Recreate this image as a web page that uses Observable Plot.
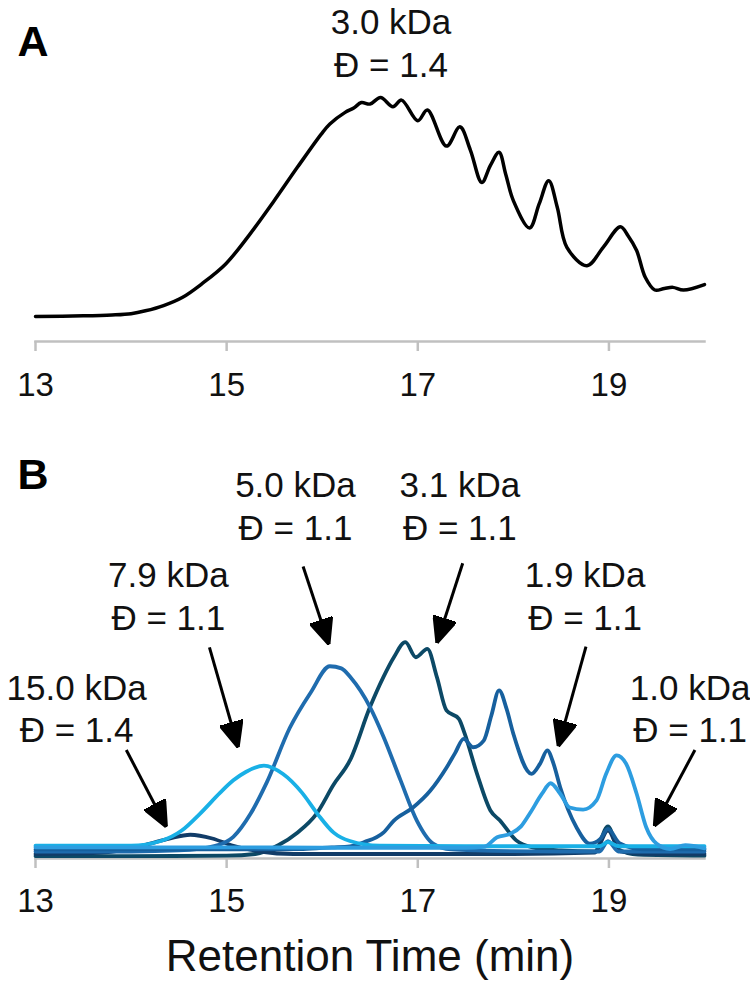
<!DOCTYPE html>
<html>
<head>
<meta charset="utf-8">
<script src="https://cdn.jsdelivr.net/npm/d3@7"></script>
<script src="https://cdn.jsdelivr.net/npm/@observablehq/plot@0.6"></script>
<style>
  html, body { margin: 0; padding: 0; background: #fff; }
  #chart { width: 750px; }
  #chart svg { display: block; }
</style>
</head>
<body>
<div id="chart"></div>
<script>
// ---------- shared axis ----------
const timeDomain = [13, 20];
const timeTicks = [13, 15, 17, 19];
const axisTitle = "Retention Time (min)";

// ---------- panel A: 3.0 kDa, Đ = 1.4 (normalised detector signal) ----------
const timeA = [13.00, 13.50, 13.80, 14.00, 14.15, 14.34, 14.54, 14.74, 14.99, 15.24, 15.49, 15.74, 15.99,
  16.08, 16.24, 16.33, 16.41, 16.50, 16.61, 16.74, 16.83, 17.00, 17.10, 17.30, 17.44, 17.55, 17.67,
  17.76, 17.85, 17.92, 18.00, 18.17, 18.27, 18.37, 18.46, 18.56, 18.77, 18.94, 19.12, 19.20, 19.29,
  19.38, 19.48, 19.58, 19.67, 19.78, 20.00];
const signalA = [0.000, 0.003, 0.007, 0.013, 0.026, 0.050, 0.088, 0.149, 0.240, 0.374, 0.524, 0.681, 0.833,
  0.879, 0.932, 0.952, 0.977, 0.970, 1.000, 0.958, 0.988, 0.894, 0.943, 0.778, 0.866, 0.760, 0.612,
  0.690, 0.750, 0.650, 0.529, 0.404, 0.514, 0.620, 0.498, 0.316, 0.232, 0.316, 0.410, 0.369, 0.301,
  0.179, 0.121, 0.128, 0.133, 0.121, 0.146];
const massA = ["3.0"];
const dispersityA = ["1.4"];
const labelTimeA = [16.72];
const labelLevelA = [1.427];

// ---------- panel B: six samples ----------
const time15 = [13.0, 13.6, 14.0, 14.2, 14.4, 14.62, 14.85, 15.05, 15.35, 15.7, 17.0, 18.0, 18.85, 18.99, 19.12, 19.4, 20.0];
const signal15 = [-0.012, -0.008, 0.015, 0.038, 0.062, 0.08, 0.062, 0.03, 0.0, -0.012, -0.012, -0.012, -0.005, 0.1, 0.0, -0.012, -0.012];

const time79 = [13.0, 14.0, 14.31, 14.53, 14.72, 14.93, 15.07, 15.2, 15.39, 15.59, 15.79, 15.95, 16.12, 16.29, 16.6, 17.5, 18.5, 18.9, 18.99, 19.1, 20.0];
const signal79 = [0.028, 0.028, 0.05, 0.1, 0.18, 0.28, 0.34, 0.38, 0.41, 0.37, 0.28, 0.18, 0.09, 0.05, 0.028, 0.025, 0.025, 0.025, 0.045, 0.025, 0.025];

const time50 = [13.0, 14.0, 14.5, 14.88, 15.07, 15.25, 15.42, 15.66, 15.88, 16.08, 16.2, 16.3, 16.5, 16.64, 16.82, 16.99, 17.16, 17.35, 17.6, 18.5, 18.9, 18.99, 19.1, 20.0];
const signal50 = [0.0, 0.0, 0.005, 0.027, 0.07, 0.18, 0.33, 0.59, 0.76, 0.885, 0.875, 0.83, 0.69, 0.55, 0.34, 0.148, 0.038, 0.01, 0.005, 0.0, 0.0, 0.05, 0.0, 0.0];

const time31 = [13.0, 14.0, 15.0, 15.3, 15.54, 15.74, 15.94, 16.12, 16.29, 16.5, 16.64, 16.75, 16.87, 16.98, 17.10, 17.20, 17.30, 17.43, 17.49, 17.62, 17.76, 17.86, 18.03, 18.20, 18.5, 18.85, 18.99, 19.1, 19.3, 20.0];
const signal31 = [-0.022, -0.022, -0.02, -0.012, 0.03, 0.09, 0.18, 0.32, 0.435, 0.69, 0.833, 0.928, 1.0, 0.928, 0.968, 0.833, 0.674, 0.634, 0.564, 0.371, 0.196, 0.148, 0.053, 0.02, 0.005, 0.0, 0.12, 0.01, -0.015, -0.02];

const time19 = [13.0, 14.0, 15.0, 15.8, 16.1, 16.29, 16.44, 16.64, 16.75, 16.95, 17.13, 17.30, 17.39, 17.48, 17.58, 17.69, 17.77, 17.85, 17.93, 18.0, 18.19, 18.28, 18.355, 18.42, 18.49, 18.66, 18.80, 18.91, 18.99, 19.11, 19.36, 20.0];
const signal19 = [0.01, 0.01, 0.01, 0.012, 0.02, 0.025, 0.045, 0.09, 0.148, 0.21, 0.29, 0.40, 0.47, 0.538, 0.498, 0.53, 0.65, 0.77, 0.68, 0.562, 0.371, 0.42, 0.483, 0.42, 0.307, 0.116, 0.037, 0.06, 0.108, 0.04, 0.01, 0.01];

const time10 = [13.0, 14.0, 15.0, 16.0, 17.0, 17.5, 17.69, 17.83, 17.97, 18.08, 18.17, 18.30, 18.39, 18.49, 18.59, 18.73, 18.87, 18.97, 19.08, 19.18, 19.29, 19.39, 19.5, 19.64, 19.8, 20.0];
const signal10 = [0.02, 0.02, 0.02, 0.018, 0.018, 0.018, 0.022, 0.068, 0.085, 0.12, 0.18, 0.276, 0.326, 0.276, 0.21, 0.2, 0.244, 0.37, 0.459, 0.419, 0.276, 0.116, 0.037, 0.012, 0.03, 0.015];

const massB = ["15.0", "7.9", "5.0", "3.1", "1.9", "1.0"];
const dispersityB = ["1.4", "1.1", "1.1", "1.1", "1.1", "1.1"];
const labelTimeB = [13.43, 14.39, 15.72, 17.44, 18.75, 19.85];
const labelLevelB = [0.870, 1.409, 1.839, 1.839, 1.409, 0.870];
const arrowFromTime = [13.95, 14.82, 15.80, 17.47, 18.76, 19.90];
const arrowFromLevel = [0.485, 0.975, 1.362, 1.377, 0.979, 0.485];
const arrowToTime = [14.37, 15.12, 16.07, 17.20, 18.47, 19.475];
const arrowToLevel = [0.117, 0.497, 0.989, 0.996, 0.502, 0.122];

// ---------- styling ----------
const font = "'Liberation Sans', Arial, Helvetica, sans-serif";
const traceColor = {
  "15.0": "#123c68",
  "7.9": "#19b0e6",
  "5.0": "#1f6cae",
  "3.1": "#0c4966",
  "1.9": "#17609e",
  "1.0": "#2d9de0"
};
const drawOrder = ["3.1", "15.0", "5.0", "1.9", "7.9", "1.0"];

// ---------- tables ----------
const traceA = timeA.map((t, i) => ({t, v: signalA[i]}));
const notesA = massA.map((m, i) => ({t: labelTimeA[i], v: labelLevelA[i], text: `${m} kDa\nĐ = ${dispersityA[i]}`}));

const tracesB = {
  "15.0": [time15, signal15],
  "7.9": [time79, signal79],
  "5.0": [time50, signal50],
  "3.1": [time31, signal31],
  "1.9": [time19, signal19],
  "1.0": [time10, signal10]
};
const rowsB = drawOrder.flatMap(k => tracesB[k][0].map((t, i) => ({sample: k, t, v: tracesB[k][1][i]})));
const notesB = massB.map((m, i) => ({t: labelTimeB[i], v: labelLevelB[i], text: `${m} kDa\nĐ = ${dispersityB[i]}`}));
const arrowsB = massB.map((m, i) => ({x1: arrowFromTime[i], y1: arrowFromLevel[i], x2: arrowToTime[i], y2: arrowToLevel[i]}));

// filled triangular arrowhead
function filledHead(color) {
  const ns = "http://www.w3.org/2000/svg";
  const marker = document.createElementNS(ns, "marker");
  marker.setAttribute("viewBox", "-26 -12 26 24");
  marker.setAttribute("refX", 0);
  marker.setAttribute("refY", 0);
  marker.setAttribute("markerWidth", 26);
  marker.setAttribute("markerHeight", 24);
  marker.setAttribute("markerUnits", "userSpaceOnUse");
  marker.setAttribute("orient", "auto");
  const path = document.createElementNS(ns, "path");
  path.setAttribute("d", "M-26,-11.5L0,0L-26,11.5Z");
  path.setAttribute("fill", color);
  marker.appendChild(path);
  return marker;
}

const axisMarks = (padding) => [
  Plot.frame({anchor: "bottom", stroke: "#c0c0c0", strokeWidth: 2.5}),
  Plot.axisX({ticks: timeTicks, tickSize: 10, tickPadding: padding, fontSize: 33,
    stroke: "#c0c0c0", strokeWidth: 2.5, color: "#111", label: null, tickFormat: d => String(d)})
];

// ---------- panel A ----------
const plotA = Plot.plot({
  width: 750, height: 420,
  marginLeft: 35, marginRight: 46, marginTop: 0, marginBottom: 79,
  style: {fontFamily: font, background: "#fff", overflow: "visible"},
  x: {domain: timeDomain},
  y: {domain: [0, 1], range: [316, 97], axis: null},
  marks: [
    ...axisMarks(21),
    Plot.line(traceA, {x: "t", y: "v", stroke: "#000", strokeWidth: 3.5, curve: "catmull-rom"}),
    Plot.text(notesA, {x: "t", y: "v", text: "text", lineAnchor: "top", lineHeight: 1.22,
      fontSize: 35, fill: "#111"}),
    Plot.text(["A"], {frameAnchor: "top-left", textAnchor: "start", lineAnchor: "top",
      dx: -18, dy: 25, fontSize: 43, fontWeight: "bold", fill: "#000"})
  ]
});

// ---------- panel B ----------
const plotB = Plot.plot({
  width: 750, height: 562,
  marginLeft: 35, marginRight: 46, marginTop: 0, marginBottom: 124,
  style: {fontFamily: font, background: "#fff", overflow: "visible"},
  x: {domain: timeDomain},
  y: {domain: [0, 1], range: [431, 221.7], axis: null},
  marks: [
    ...axisMarks(20),
    ...drawOrder.map(k => Plot.line(rowsB.filter(d => d.sample === k),
      {x: "t", y: "v", stroke: traceColor[k], strokeWidth: 3.8, curve: "monotone-x"})),
    Plot.link(arrowsB, {x1: "x1", y1: "y1", x2: "x2", y2: "y2", stroke: "#000",
      strokeWidth: 3, markerEnd: filledHead}),
    Plot.text(notesB, {x: "t", y: "v", text: "text", lineAnchor: "top", lineHeight: 1.22,
      fontSize: 35, fill: "#111"}),
    Plot.text(["B"], {frameAnchor: "top-left", textAnchor: "start", lineAnchor: "top",
      dx: -18, dy: 38, fontSize: 43, fontWeight: "bold", fill: "#000"}),
    Plot.text([axisTitle], {frameAnchor: "bottom", lineAnchor: "bottom", dy: 112,
      fontSize: 44, fill: "#111"})
  ]
});

document.getElementById("chart").append(plotA, plotB);
</script>
</body>
</html>
